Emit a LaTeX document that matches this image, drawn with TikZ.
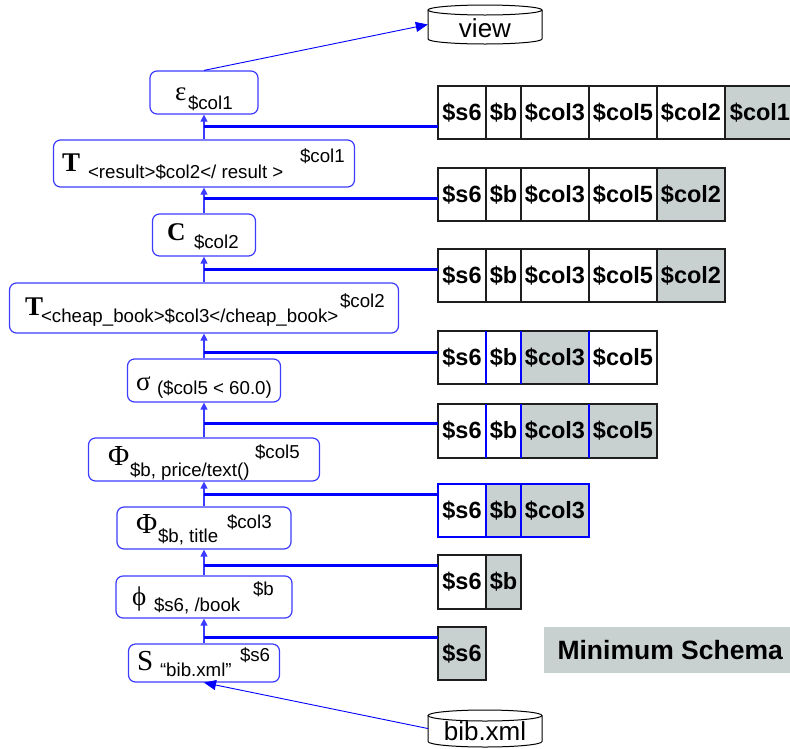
\documentclass[tikz,border=0pt]{standalone}
\usepackage{fontspec}
\setmainfont{Liberation Sans}
\newfontfamily\serifgr{Liberation Serif}
\usetikzlibrary{arrows.meta}
\definecolor{opblue}{RGB}{60,60,255}
\definecolor{pureblue}{RGB}{0,0,255}
\definecolor{shade}{RGB}{200,209,208}
\definecolor{tabline}{RGB}{30,30,30}
\tikzset{
 opbox/.style={draw=opblue, line width=1.2pt, rounded corners=7pt, inner sep=0pt, fill=white},
 txt/.style={anchor=base west, inner sep=0pt, outer sep=0pt},
 sub/.style={txt, font=\fontsize{18.7}{19}\selectfont},
 grk/.style={txt, font=\fontsize{27}{27}\selectfont\serifgr},
 bgrk/.style={txt, font=\fontsize{27}{27}\selectfont\serifgr\bfseries},
 varrow/.style={draw=opblue, line width=1.1pt, -{Triangle[length=7pt,width=7pt]}},
 thinarrow/.style={draw=pureblue, line width=0.9pt, -{Triangle[length=12pt,width=10pt]}},
 link/.style={draw=pureblue, line width=3pt},
 cell/.style={anchor=north west, inner sep=0pt, outer sep=0pt, minimum height=53pt, font=\fontsize{23.5}{24}\selectfont\bfseries},
 wcell/.style={cell, fill=white},
 gcell/.style={cell, fill=shade},
 tabborder/.style={draw=tabline, line width=1.4pt},
 bluediv/.style={draw=pureblue, line width=1.1pt},
 dbshape/.style={draw=black, line width=1pt, fill=white},
 dblabel/.style={inner sep=0pt, font=\fontsize{26}{26}\selectfont},
}
\begin{document}
\begin{tikzpicture}[x=1pt,y=-1pt]
\useasboundingbox (0,0) rectangle (790,748);

% ---------- operator boxes ----------
\node[opbox, minimum width=108pt, minimum height=43pt] (eps) at (204,92.5) {};
\node[opbox, minimum width=301pt, minimum height=47pt] (tres) at (204,163.5) {};
\node[opbox, minimum width=103pt, minimum height=42pt] (cbox) at (204,235) {};
\node[opbox, minimum width=389pt, minimum height=50pt] (tcb) at (204,308) {};
\node[opbox, minimum width=153pt, minimum height=43pt] (sig) at (204,380.5) {};
\node[opbox, minimum width=231pt, minimum height=43pt] (phip) at (204,459.5) {};
\node[opbox, minimum width=174pt, minimum height=42pt] (phit) at (204,528) {};
\node[opbox, minimum width=176pt, minimum height=42pt] (phib) at (204,597) {};
\node[opbox, minimum width=151pt, minimum height=38pt] (sbox) at (204,663) {};

% ---------- texts in boxes ----------
\node[grk, font=\fontsize{27}{27}\selectfont\serifgr] (epsA) at (175,100) {ε};
\node[sub] (epsB) at (188,109) {\$col1};

\node[bgrk] (tresA) at (62,171) {T};
\node[sub] (tresB) at (88,178) {<result>\$col2</ result >};
\node[sub] (tresC) at (300,162) {\$col1};

\node[bgrk, font=\fontsize{25.5}{26}\selectfont\serifgr\bfseries] (cA) at (167,240) {C};
\node[sub] (cB) at (194,248) {\$col2};

\node[bgrk] (tcbA) at (25,315) {T};
\node[sub] (tcbB) at (41,322) {<cheap\_book>\$col3</cheap\_book>};
\node[sub] (tcbC) at (340,307) {\$col2};

\node[grk] (sigA) at (136,390) {σ};
\node[sub] (sigB) at (157,394) {(\$col5 < 60.0)};

\node[grk, font=\fontsize{29}{29}\selectfont\serifgr] (phipA) at (108,465) {Φ};
\node[sub] (phipB) at (130,476) {\$b, price/text()};
\node[sub] (phipC) at (255,458) {\$col5};

\node[grk, font=\fontsize{29}{29}\selectfont\serifgr] (phitA) at (136,533) {Φ};
\node[sub] (phitB) at (158,542) {\$b, title};
\node[sub] (phitC) at (227,528) {\$col3};

\node[grk] (phibA) at (132,605) {ϕ};
\node[sub] (phibB) at (154,611) {\$s6, /book};
\node[sub] (phibC) at (253,595) {\$b};

\node[grk, font=\fontsize{29}{29}\selectfont\serifgr] (sA) at (137,670) {S};
\node[sub] (sB) at (160,676) {“bib.xml”};
\node[sub] (sC) at (240,661) {\$s6};

% ---------- vertical arrows ----------
\draw[varrow] (tres.north) -- (eps.south);
\draw[varrow] (cbox.north) -- (tres.south);
\draw[varrow] (tcb.north) -- (cbox.south);
\draw[varrow] (sig.north) -- (tcb.south);
\draw[varrow] (phip.north) -- (sig.south);
\draw[varrow] (phit.north) -- (phip.south);
\draw[varrow] (phib.north) -- (phit.south);
\draw[varrow] (sbox.north) -- (phib.south);

% ---------- cylinders ----------
\node[minimum width=114pt, minimum height=39pt, inner sep=0pt] (view) at (485,24.5) {};
\draw[dbshape] (428,10) -- (428,39) arc[start angle=180, end angle=0, x radius=57, y radius=5] -- (542,10);
\draw[dbshape] (485,10) ellipse[x radius=57, y radius=5];
\node[dblabel, anchor=base] (viewT) at (485,37) {view};

\node[minimum width=114pt, minimum height=37pt, inner sep=0pt] (bib) at (485,728.5) {};
\draw[dbshape] (428,715.5) -- (428,741.5) arc[start angle=180, end angle=0, x radius=57, y radius=5.5] -- (542,715.5);
\draw[dbshape] (485,715.5) ellipse[x radius=57, y radius=5.5];
\node[dblabel, anchor=base] (bibT) at (485,740) {bib.xml};

\draw[thinarrow] (eps.north) -- (view.west);
\draw[thinarrow] (bib.west) -- (sbox.south);

% ---------- schema tables ----------
% T1
\node[wcell, minimum width=48pt] (a1) at (438,86) {\$s6};
\node[wcell, minimum width=35pt] (b1) at (a1.north east) {\$b};
\node[wcell, minimum width=68pt] (c1) at (b1.north east) {\$col3};
\node[wcell, minimum width=68pt] (d1) at (c1.north east) {\$col5};
\node[wcell, minimum width=68pt] (e1) at (d1.north east) {\$col2};
\node[gcell, minimum width=70pt] (f1) at (e1.north east) {\$col1};
\draw[tabborder] (a1.north west) rectangle (f1.south east);
\foreach \n in {b1,c1,d1,e1,f1} \draw[tabborder] (\n.north west) -- (\n.south west);

% T2
\node[wcell, minimum width=48pt] (a2) at (438,168) {\$s6};
\node[wcell, minimum width=35pt] (b2) at (a2.north east) {\$b};
\node[wcell, minimum width=68pt] (c2) at (b2.north east) {\$col3};
\node[wcell, minimum width=68pt] (d2) at (c2.north east) {\$col5};
\node[gcell, minimum width=68pt] (e2) at (d2.north east) {\$col2};
\draw[tabborder] (a2.north west) rectangle (e2.south east);
\foreach \n in {b2,c2,d2,e2} \draw[tabborder] (\n.north west) -- (\n.south west);

% T3
\node[wcell, minimum width=48pt] (a3) at (438,249) {\$s6};
\node[wcell, minimum width=35pt] (b3) at (a3.north east) {\$b};
\node[wcell, minimum width=68pt] (c3) at (b3.north east) {\$col3};
\node[wcell, minimum width=68pt] (d3) at (c3.north east) {\$col5};
\node[gcell, minimum width=68pt] (e3) at (d3.north east) {\$col2};
\draw[tabborder] (a3.north west) rectangle (e3.south east);
\foreach \n in {b3,c3,d3,e3} \draw[tabborder] (\n.north west) -- (\n.south west);

% T4
\node[wcell, minimum width=48pt] (a4) at (438,331) {\$s6};
\node[wcell, minimum width=35pt] (b4) at (a4.north east) {\$b};
\node[gcell, minimum width=68pt] (c4) at (b4.north east) {\$col3};
\node[wcell, minimum width=68pt] (d4) at (c4.north east) {\$col5};
\draw[tabborder] (a4.north west) rectangle (d4.south east);
\foreach \n in {b4,c4,d4} \draw[bluediv] (\n.north west) -- (\n.south west);

% T5
\node[wcell, minimum width=48pt, minimum height=54pt] (a5) at (438,404) {\$s6};
\node[wcell, minimum width=35pt, minimum height=54pt] (b5) at (a5.north east) {\$b};
\node[gcell, minimum width=68pt, minimum height=54pt] (c5) at (b5.north east) {\$col3};
\node[gcell, minimum width=68pt, minimum height=54pt] (d5) at (c5.north east) {\$col5};
\draw[tabborder] (a5.north west) rectangle (d5.south east);
\foreach \n in {b5,c5,d5} \draw[bluediv] (\n.north west) -- (\n.south west);

% T6
\node[wcell, minimum width=48pt] (a6) at (438,484) {\$s6};
\node[gcell, minimum width=35pt] (b6) at (a6.north east) {\$b};
\node[gcell, minimum width=68pt] (c6) at (b6.north east) {\$col3};
\draw[bluediv, line width=1.4pt] (a6.north west) rectangle (c6.south east);
\foreach \n in {b6,c6} \draw[bluediv] (\n.north west) -- (\n.south west);

% T7
\node[wcell, minimum width=48pt, minimum height=54pt] (a7) at (438,555) {\$s6};
\node[gcell, minimum width=35pt, minimum height=54pt] (b7) at (a7.north east) {\$b};
\draw[tabborder] (a7.north west) rectangle (b7.south east);
\draw[tabborder] (b7.north west) -- (b7.south west);

% T8
\node[gcell, minimum width=48pt] (a8) at (438,627) {\$s6};
\draw[tabborder] (a8.north west) rectangle (a8.south east);

% ---------- links ----------
\coordinate (j1) at (204,126);
\coordinate (j2) at (204,198);
\coordinate (j3) at (204,269);
\coordinate (j4) at (204,352);
\coordinate (j5) at (204,423);
\coordinate (j6) at (204,494);
\coordinate (j7) at (204,565);
\coordinate (j8) at (204,637);
\draw[link] (j1) -- (j1 -| a1.west);
\draw[link] (j2) -- (j2 -| a2.west);
\draw[link] (j3) -- (j3 -| a3.west);
\draw[link] (j4) -- (j4 -| a4.west);
\draw[link] (j5) -- (j5 -| a5.west);
\draw[link] (j6) -- (j6 -| a6.west);
\draw[link] (j7) -- (j7 -| a7.west);
\draw[link] (j8) -- (j8 -| a8.west);

% ---------- legend ----------
\node[fill=shade, anchor=west, minimum width=252pt, minimum height=46pt, inner sep=0pt,
      font=\fontsize{26.5}{27}\selectfont\bfseries] (minsch) at (544,650) {Minimum Schema};
\end{tikzpicture}
\end{document}
